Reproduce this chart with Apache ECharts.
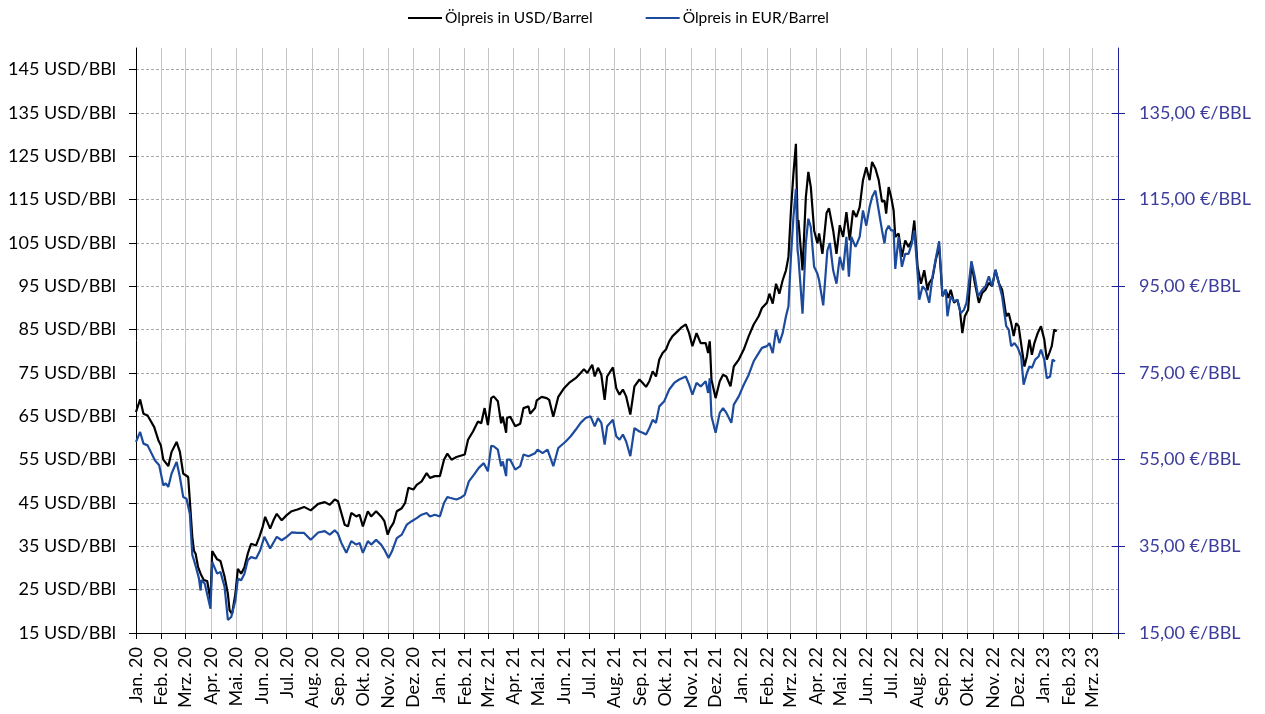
<!DOCTYPE html>
<html>
<head>
<meta charset="utf-8">
<script src="https://cdn.jsdelivr.net/npm/echarts@6/dist/echarts.min.js"></script>
<style>html,body{margin:0;padding:0;background:#fff}#chart{width:1265px;height:714px}</style>
</head>
<body>
<div id="chart"></div>
<script>
// ---------- tick labels ----------
const monthLabels = ['Jan.', 'Feb.', 'Mrz.', 'Apr.', 'Mai.', 'Jun.', 'Jul.', 'Aug.', 'Sep.', 'Okt.', 'Nov.', 'Dez.'];
const leftTicks = [15, 25, 35, 45, 55, 65, 75, 85, 95, 105, 115, 125, 135, 145];
const rightTicks = [15, 35, 55, 75, 95, 115, 135];
const seriesNames = ['Ölpreis in USD/Barrel', 'Ölpreis in EUR/Barrel'];

// ---------- Ölpreis in USD/Barrel ----------
const usdDates = [
'2020-01-01','2020-01-06','2020-01-08','2020-01-10','2020-01-15','2020-01-17','2020-01-23','2020-01-28','2020-01-31','2020-02-03',
'2020-02-09','2020-02-13','2020-02-19','2020-02-23','2020-02-27','2020-03-01','2020-03-04','2020-03-06','2020-03-09','2020-03-11',
'2020-03-13','2020-03-16','2020-03-19','2020-03-23','2020-03-27','2020-03-31','2020-04-02','2020-04-08','2020-04-12','2020-04-17',
'2020-04-21','2020-04-23','2020-04-26','2020-04-30','2020-05-03','2020-05-07','2020-05-11','2020-05-15','2020-05-19','2020-05-25',
'2020-05-29','2020-06-02','2020-06-05','2020-06-11','2020-06-15','2020-06-19','2020-06-25','2020-07-01','2020-07-07','2020-07-14',
'2020-07-22','2020-07-30','2020-08-08','2020-08-16','2020-08-22','2020-08-28','2020-09-01','2020-09-05','2020-09-09','2020-09-13',
'2020-09-17','2020-09-23','2020-09-27','2020-10-01','2020-10-07','2020-10-11','2020-10-17','2020-10-23','2020-10-27','2020-10-31',
'2020-11-03','2020-11-07','2020-11-11','2020-11-17','2020-11-21','2020-11-25','2020-12-01','2020-12-05','2020-12-11','2020-12-17',
'2020-12-21','2020-12-27','2021-01-02','2021-01-07','2021-01-11','2021-01-16','2021-01-22','2021-01-27','2021-02-01','2021-02-05',
'2021-02-11','2021-02-17','2021-02-21','2021-02-25','2021-03-01','2021-03-05','2021-03-08','2021-03-13','2021-03-17','2021-03-19',
'2021-03-23','2021-03-24','2021-03-28','2021-04-03','2021-04-09','2021-04-13','2021-04-19','2021-04-21','2021-04-27','2021-04-29',
'2021-05-05','2021-05-11','2021-05-14','2021-05-19','2021-05-25','2021-06-01','2021-06-07','2021-06-15','2021-06-21','2021-06-25',
'2021-06-29','2021-07-05','2021-07-08','2021-07-12','2021-07-16','2021-07-20','2021-07-23','2021-07-30','2021-08-03','2021-08-07',
'2021-08-11','2021-08-15','2021-08-20','2021-08-25','2021-08-31','2021-09-04','2021-09-08','2021-09-12','2021-09-16','2021-09-20',
'2021-09-24','2021-09-28','2021-10-02','2021-10-06','2021-10-10','2021-10-16','2021-10-20','2021-10-26','2021-10-30','2021-11-03',
'2021-11-08','2021-11-13','2021-11-19','2021-11-22','2021-11-24','2021-11-26','2021-12-01','2021-12-06','2021-12-10','2021-12-14',
'2021-12-19','2021-12-23','2021-12-29','2022-01-04','2022-01-10','2022-01-16','2022-01-22','2022-01-26','2022-02-01','2022-02-04',
'2022-02-08','2022-02-12','2022-02-16','2022-02-20','2022-02-24','2022-02-27','2022-03-02','2022-03-05','2022-03-08','2022-03-10',
'2022-03-11','2022-03-16','2022-03-20','2022-03-23','2022-03-26','2022-03-30','2022-04-03','2022-04-05','2022-04-09','2022-04-14',
'2022-04-17','2022-04-22','2022-04-26','2022-04-30','2022-05-04','2022-05-08','2022-05-12','2022-05-16','2022-05-20','2022-05-24',
'2022-05-28','2022-06-01','2022-06-05','2022-06-08','2022-06-12','2022-06-16','2022-06-20','2022-06-23','2022-06-25','2022-06-28',
'2022-07-01','2022-07-04','2022-07-06','2022-07-10','2022-07-14','2022-07-18','2022-07-22','2022-07-26','2022-07-29','2022-08-02',
'2022-08-06','2022-08-10','2022-08-14','2022-08-16','2022-08-20','2022-08-24','2022-08-28','2022-09-01','2022-09-05','2022-09-08',
'2022-09-11','2022-09-15','2022-09-19','2022-09-22','2022-09-25','2022-09-28','2022-10-02','2022-10-06','2022-10-10','2022-10-15',
'2022-10-19','2022-10-23','2022-10-27','2022-10-31','2022-11-04','2022-11-08','2022-11-12','2022-11-14','2022-11-17','2022-11-20',
'2022-11-23','2022-11-26','2022-11-29','2022-12-02','2022-12-06','2022-12-09','2022-12-12','2022-12-15','2022-12-18','2022-12-21',
'2022-12-25','2022-12-29','2023-01-02','2023-01-05','2023-01-08','2023-01-11','2023-01-14','2023-01-17'
];
const usdValues = [
66.0,68.9,68.5,65.6,65.2,65.5,62.5,59.5,58.3,55.0,
53.5,56.8,59.1,56.8,51.8,51.4,51.0,45.6,37.2,34.0,
33.3,30.2,28.7,27.2,27.0,22.5,33.9,32.0,31.6,28.0,
24.0,20.2,19.4,24.0,29.8,28.7,30.2,33.3,35.6,35.2,
37.2,39.5,41.8,39.1,41.0,42.5,41.0,42.2,43.1,43.5,
44.1,43.3,44.8,45.2,44.6,45.8,45.4,42.7,40.0,39.6,
42.7,41.9,42.3,39.6,43.1,41.9,43.1,41.9,40.8,37.7,
39.2,40.4,43.1,43.8,45.0,48.5,48.1,49.2,50.0,51.9,
50.8,51.2,51.2,55.0,56.4,55.0,55.6,55.9,56.2,59.6,
61.5,63.8,63.4,66.9,63.0,69.2,69.6,68.5,63.4,64.9,
61.2,64.6,64.9,62.7,63.3,66.9,67.3,65.6,66.9,68.7,
69.5,69.2,68.8,64.9,69.5,71.5,72.7,73.8,75.0,75.9,
75.0,76.9,74.2,76.2,74.6,68.8,74.2,76.3,71.5,70.0,
71.2,69.6,65.4,71.9,73.5,72.7,71.8,73.1,75.4,74.2,
78.1,79.6,80.4,82.3,83.5,84.6,85.4,86.2,84.2,81.2,
84.2,81.9,81.9,79.6,82.3,73.5,69.2,73.1,74.6,74.2,
71.9,76.5,78.1,80.4,83.5,86.2,88.1,90.0,91.2,93.3,
91.0,95.6,93.3,96.4,98.7,101.8,112.5,121.0,127.9,109.5,
110.3,98.7,115.6,121.4,117.9,107.9,104.9,107.2,102.5,111.9,
113.0,107.9,102.5,109.1,106.4,112.1,105.6,112.5,111.0,113.3,
119.5,122.5,119.5,123.7,122.2,119.5,114.5,114.8,111.8,117.9,
115.6,112.5,106.4,107.2,101.8,105.6,104.1,105.6,110.2,99.5,
95.6,98.7,94.1,95.8,96.9,101.2,104.2,92.7,94.2,92.3,
94.2,91.2,91.9,89.6,84.2,88.1,89.6,100.4,95.8,91.2,
93.5,94.2,95.8,95.0,98.8,95.8,94.2,91.9,88.1,88.8,
86.5,83.5,86.5,85.8,80.4,76.5,78.8,82.7,79.2,81.9,
84.2,85.8,82.7,78.1,79.6,81.2,85.0,84.6
];

// ---------- Ölpreis in EUR/Barrel ----------
const eurDates = [
'2020-01-01','2020-01-06','2020-01-10','2020-01-15','2020-01-17','2020-01-24','2020-01-29','2020-02-03','2020-02-06','2020-02-09',
'2020-02-13','2020-02-19','2020-02-23','2020-02-27','2020-03-02','2020-03-04','2020-03-06','2020-03-09','2020-03-11','2020-03-13',
'2020-03-17','2020-03-19','2020-03-20','2020-03-24','2020-03-31','2020-04-02','2020-04-08','2020-04-12','2020-04-17','2020-04-21',
'2020-04-25','2020-04-30','2020-05-03','2020-05-07','2020-05-11','2020-05-15','2020-05-19','2020-05-25','2020-05-30','2020-06-04',
'2020-06-11','2020-06-19','2020-06-25','2020-07-01','2020-07-07','2020-07-14','2020-07-22','2020-07-30','2020-08-08','2020-08-16',
'2020-08-22','2020-08-28','2020-09-01','2020-09-05','2020-09-11','2020-09-17','2020-09-23','2020-09-27','2020-10-01','2020-10-07',
'2020-10-11','2020-10-17','2020-10-23','2020-10-27','2020-11-01','2020-11-05','2020-11-11','2020-11-17','2020-11-23','2020-11-29',
'2020-12-05','2020-12-11','2020-12-17','2020-12-21','2020-12-27','2021-01-02','2021-01-07','2021-01-11','2021-01-14','2021-01-22',
'2021-01-27','2021-02-01','2021-02-06','2021-02-12','2021-02-18','2021-02-24','2021-03-01','2021-03-05','2021-03-08','2021-03-13',
'2021-03-17','2021-03-19','2021-03-23','2021-03-24','2021-03-28','2021-04-03','2021-04-09','2021-04-13','2021-04-19','2021-04-27',
'2021-04-30','2021-05-06','2021-05-12','2021-05-19','2021-05-25','2021-06-03','2021-06-09','2021-06-15','2021-06-21','2021-06-27',
'2021-07-03','2021-07-08','2021-07-12','2021-07-16','2021-07-20','2021-07-23','2021-07-30','2021-08-03','2021-08-07','2021-08-11',
'2021-08-15','2021-08-20','2021-08-25','2021-08-31','2021-09-04','2021-09-08','2021-09-12','2021-09-16','2021-09-20','2021-09-24',
'2021-09-30','2021-10-06','2021-10-12','2021-10-18','2021-10-26','2021-10-30','2021-11-03','2021-11-08','2021-11-13','2021-11-19',
'2021-11-22','2021-11-24','2021-11-26','2021-12-01','2021-12-06','2021-12-10','2021-12-14','2021-12-20','2021-12-23','2021-12-29',
'2022-01-04','2022-01-10','2022-01-16','2022-01-22','2022-01-26','2022-02-01','2022-02-04','2022-02-08','2022-02-12','2022-02-16',
'2022-02-20','2022-02-24','2022-02-27','2022-03-02','2022-03-05','2022-03-08','2022-03-10','2022-03-11','2022-03-16','2022-03-20',
'2022-03-23','2022-03-26','2022-03-30','2022-04-03','2022-04-05','2022-04-10','2022-04-15','2022-04-18','2022-04-22','2022-04-26',
'2022-04-30','2022-05-04','2022-05-08','2022-05-11','2022-05-14','2022-05-19','2022-05-24','2022-05-28','2022-06-01','2022-06-05',
'2022-06-08','2022-06-12','2022-06-16','2022-06-20','2022-06-23','2022-06-25','2022-06-28','2022-07-01','2022-07-04','2022-07-06',
'2022-07-10','2022-07-14','2022-07-18','2022-07-22','2022-07-26','2022-07-29','2022-08-02','2022-08-04','2022-08-08','2022-08-12',
'2022-08-16','2022-08-20','2022-08-24','2022-08-28','2022-09-01','2022-09-05','2022-09-07','2022-09-11','2022-09-15','2022-09-19',
'2022-09-23','2022-09-27','2022-09-30','2022-10-06','2022-10-10','2022-10-14','2022-10-19','2022-10-23','2022-10-27','2022-10-31',
'2022-11-04','2022-11-08','2022-11-12','2022-11-17','2022-11-20','2022-11-23','2022-11-27','2022-12-01','2022-12-05','2022-12-08',
'2022-12-12','2022-12-15','2022-12-18','2022-12-22','2022-12-26','2022-12-29','2023-01-02','2023-01-05','2023-01-09','2023-01-12',
'2023-01-15'
];
const eurValues = [
59.1,61.4,58.7,58.3,58.7,54.8,53.7,49.1,49.5,48.7,
51.8,54.5,51.0,46.4,46.0,45.6,42.5,33.0,31.8,30.5,
27.6,24.8,27.2,26.4,20.6,31.4,28.7,29.1,25.6,18.0,
18.7,22.5,27.5,27.2,28.7,31.8,32.5,32.2,34.1,37.2,
34.5,37.2,36.4,37.2,38.2,38.1,38.1,36.5,38.2,38.5,
37.7,38.7,37.9,35.8,33.5,36.2,35.4,35.8,33.5,36.2,
35.4,36.5,35.4,34.2,32.3,33.8,36.9,37.7,40.0,40.8,
41.5,42.3,42.7,41.9,42.3,41.9,45.0,46.4,46.2,45.8,
46.2,46.9,50.0,51.5,53.1,54.2,52.3,58.2,58.1,57.3,
53.5,54.6,51.2,55.0,55.0,52.7,53.5,56.2,55.8,56.5,
57.3,56.5,57.3,53.5,57.7,59.2,60.4,61.9,63.5,64.6,
65.0,62.7,64.6,63.5,58.5,62.7,64.2,60.4,59.6,60.8,
59.2,55.8,62.3,61.5,61.2,60.8,62.3,64.2,63.5,67.3,
68.5,71.2,72.7,73.5,74.2,72.3,70.0,72.7,71.9,73.1,
70.4,73.8,65.0,61.2,65.8,66.9,65.8,63.5,67.7,69.6,
72.3,74.6,77.7,79.6,80.8,81.2,81.9,79.6,85.0,81.9,
84.2,88.1,90.4,101.8,111.0,117.5,103.3,101.8,88.7,105.0,
110.6,108.7,99.5,97.9,96.4,90.6,103.3,105.0,98.7,95.6,
101.8,98.7,106.4,97.2,106.4,104.1,106.4,112.5,109.0,113.3,
115.6,117.1,112.5,107.9,104.9,107.9,109.0,107.9,107.9,99.0,
106.4,99.5,102.5,102.5,104.9,107.9,97.9,91.9,95.0,94.1,
91.2,97.3,101.5,105.4,92.7,94.2,88.1,92.7,91.5,91.9,
88.8,89.6,91.2,100.8,97.3,92.7,94.2,95.0,97.3,95.0,
98.8,95.8,92.7,85.8,85.0,81.2,81.9,80.8,78.8,72.3,
75.0,76.5,76.2,78.1,78.8,80.4,78.1,73.8,74.2,78.1,
77.7
];

// ---------- chart ----------
const FONT = 'Lato';
const X_MIN = new Date(2020, 0, 1).getTime();
const X_MAX = new Date(2023, 3, 1).getTime();
const DAY = 86400000;
const NAVY = '#1e1e96';

const usdData = usdDates.map((d, i) => [d, usdValues[i]]);
const eurData = eurDates.map((d, i) => [d, eurValues[i]]);

const chart = echarts.init(document.getElementById('chart'), null, { renderer: 'canvas' });
chart.setOption({
  animation: false,
  backgroundColor: '#ffffff',
  textStyle: { fontFamily: FONT },
  legend: {
    data: seriesNames,
    top: 5,
    left: 403,
    icon: 'rect',
    itemWidth: 34,
    itemHeight: 2,
    itemGap: 53,
    textStyle: { fontFamily: FONT, fontSize: 15.5, color: '#000', padding: [0, 0, 0, -2] }
  },
  grid: { left: 136, right: 147, top: 48, bottom: 81, containLabel: false },
  xAxis: {
    type: 'time',
    min: X_MIN,
    max: X_MAX,
    splitNumber: 40,
    minInterval: 28 * DAY,
    maxInterval: 31 * DAY,
    axisLine: { show: true, lineStyle: { color: '#000', width: 1 } },
    axisTick: { show: true, length: 6, lineStyle: { color: '#000' } },
    axisLabel: {
      rotate: 90,
      margin: 14,
      hideOverlap: false,
      fontFamily: FONT,
      fontSize: 18,
      color: '#000',
      formatter: function (val) {
        if (val >= X_MAX) return '';
        const d = new Date(val);
        return monthLabels[d.getMonth()] + ' ' + String(d.getFullYear()).slice(2);
      }
    },
    splitLine: { show: true, lineStyle: { color: '#c6c6c6', width: 1 } }
  },
  yAxis: [
    {
      type: 'value',
      position: 'left',
      min: 15,
      max: 150,
      interval: 10,
      axisLine: { show: true, lineStyle: { color: '#000', width: 1 } },
      axisTick: { show: true, length: 7, customValues: leftTicks, lineStyle: { color: '#000' } },
      axisLabel: {
        customValues: leftTicks,
        margin: 20,
        fontFamily: FONT,
        fontSize: 18,
        color: '#000',
        formatter: function (v) { return v + ' USD/BBl'; }
      },
      splitLine: { show: true, lineStyle: { color: '#a9a9a9', width: 1, type: [3, 2] } }
    },
    {
      type: 'value',
      position: 'right',
      min: 15,
      max: 150,
      interval: 20,
      axisLine: { show: true, lineStyle: { color: NAVY, width: 1 } },
      axisTick: { show: true, length: 7, customValues: rightTicks, lineStyle: { color: NAVY } },
      axisLabel: {
        customValues: rightTicks,
        margin: 21,
        fontFamily: FONT,
        fontSize: 18,
        color: '#3c3c9c',
        formatter: function (v) { return v.toFixed(2).replace('.', ',') + ' €/BBL'; }
      },
      splitLine: { show: false }
    },
    {
      type: 'value',
      position: 'right',
      min: 15,
      max: 150,
      interval: 20,
      axisLine: { show: false },
      axisTick: { show: true, inside: true, length: 6, customValues: rightTicks, lineStyle: { color: NAVY } },
      axisLabel: { show: false },
      splitLine: { show: false }
    }
  ],
  series: [
    {
      name: seriesNames[0],
      type: 'line',
      yAxisIndex: 0,
      data: usdData,
      symbol: 'none',
      showSymbol: false,
      lineStyle: { color: '#000000', width: 2.2 },
      itemStyle: { color: '#000000' },
      z: 2
    },
    {
      name: seriesNames[1],
      type: 'line',
      yAxisIndex: 1,
      data: eurData,
      symbol: 'none',
      showSymbol: false,
      lineStyle: { color: '#1c4a9c', width: 2.2 },
      itemStyle: { color: '#1c4a9c' },
      z: 3
    }
  ]
});
</script>
</body>
</html>
